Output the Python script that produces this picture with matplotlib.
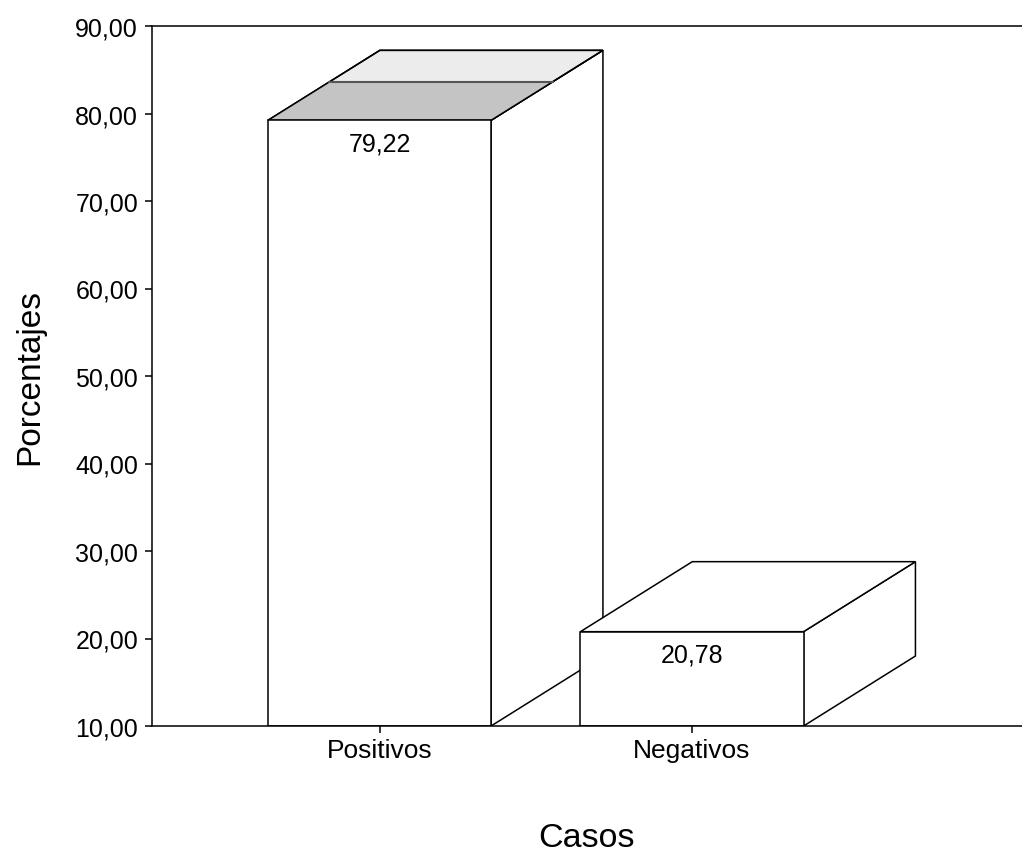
"""Porcentaje de casos positivos y negativos (barras con efecto 3D)."""
import matplotlib
matplotlib.use("Agg")
import matplotlib.pyplot as plt
from matplotlib.patches import Polygon
from matplotlib.ticker import FuncFormatter

plt.rcParams["font.family"] = ["Liberation Sans", "DejaVu Sans"]

categorias = ["Positivos", "Negativos"]
porcentajes = [79.22, 20.78]
etiquetas = ["79,22", "20,78"]
y_ticks = [10, 20, 30, 40, 50, 60, 70, 80, 90]

BASE = 10
ANCHO = 0.714        # ancho de la cara frontal (unidades de categoria)
DX, DY = 0.358, 8.0  # desplazamiento de profundidad


def caja(ax, x, h, top_color="white", dos_tonos=False):
    x0, x1 = x - ANCHO / 2, x + ANCHO / 2
    kw = dict(edgecolor="black", linewidth=1.1, joinstyle="miter")
    # cara lateral
    ax.add_patch(Polygon([(x1, BASE), (x1 + DX, BASE + DY), (x1 + DX, h + DY), (x1, h)],
                         facecolor="white", **kw))
    # cara superior
    ax.add_patch(Polygon([(x0, h), (x1, h), (x1 + DX, h + DY), (x0 + DX, h + DY)],
                         facecolor=top_color, **kw))
    if dos_tonos:
        f = 0.55
        ax.add_patch(Polygon([(x0, h), (x1, h), (x1 + DX * f, h + DY * f), (x0 + DX * f, h + DY * f)],
                             facecolor="#c4c4c4", edgecolor="none"))
        ax.plot([x0 + DX * f, x1 + DX * f], [h + DY * f, h + DY * f], color="#555555", lw=1.5)
        ax.add_patch(Polygon([(x0, h), (x1, h), (x1 + DX, h + DY), (x0 + DX, h + DY)],
                             facecolor="none", **kw))
    # cara frontal
    ax.add_patch(Polygon([(x0, BASE), (x1, BASE), (x1, h), (x0, h)],
                         facecolor="white", **kw))


fig = plt.figure(figsize=(10.22, 8.53), dpi=100)
ax = fig.add_axes([152 / 1022, 126 / 853, 870 / 1022, 700 / 853])

posiciones = list(range(len(categorias)))
for i, (x, v) in enumerate(zip(posiciones, porcentajes)):
    caja(ax, x, v, top_color="#ececec" if i == 0 else "white", dos_tonos=(i == 0))
    ax.text(x, v - 2.65, etiquetas[i], ha="center", va="center", fontsize=18)

ax.set_xlim(-0.728, 2.056)
ax.set_ylim(10, 90)
ax.set_xticks(posiciones)
ax.set_xticklabels(categorias)
ax.set_yticks(y_ticks)
ax.yaxis.set_major_formatter(FuncFormatter(lambda v, _: f"{v:.2f}".replace(".", ",")))

for s in ["left", "bottom", "top"]:
    ax.spines[s].set_linewidth(1.1)
ax.spines["right"].set_visible(False)
ax.tick_params(axis="both", direction="out", length=5, width=1.1, labelsize=18, pad=5)
ax.tick_params(axis="x", pad=4, labelsize=19)

ax.set_ylabel("Porcentajes", fontsize=24)
ax.set_xlabel("Casos", fontsize=24.5)
ax.yaxis.label.set_va("center")
ax.xaxis.label.set_va("center")
ax.yaxis.set_label_coords(-0.140, 0.5)
ax.xaxis.set_label_coords(0.5, -0.159)

fig.savefig("out.png", dpi=100)
